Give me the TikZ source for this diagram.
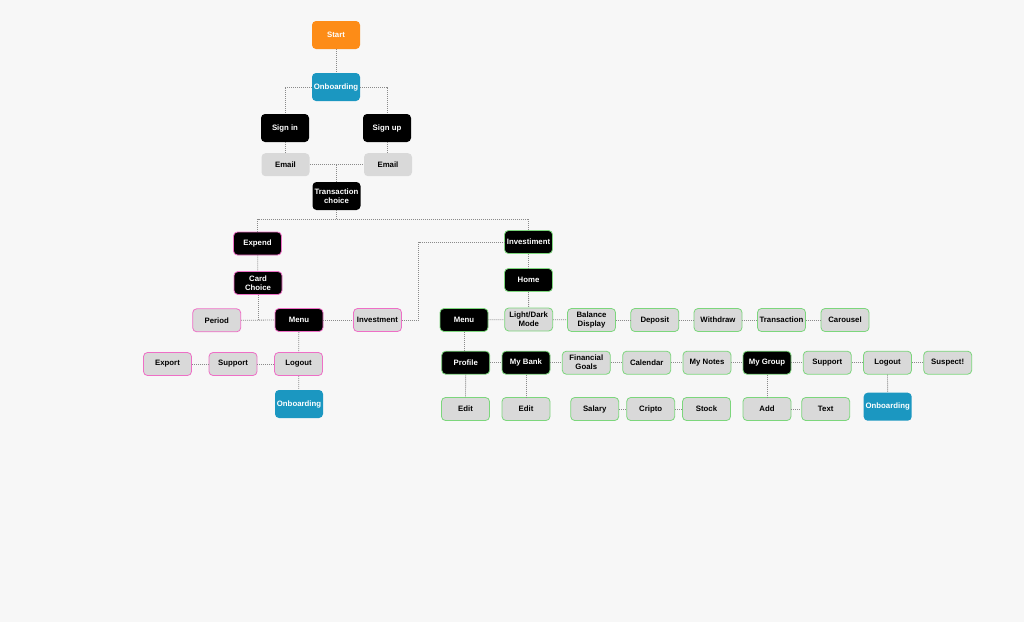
\documentclass[tikz,border=0pt]{standalone}
\usepackage{fontspec}
\setmainfont{Liberation Sans}
\begin{document}
\begin{tikzpicture}[x=1pt,y=-1pt,
  box/.style={rounded corners=4pt, minimum width=48pt, minimum height=23pt, inner sep=0pt, align=center,
    font=\fontsize{7.8}{9}\selectfont\bfseries, line width=0.8pt},
  tall/.style={minimum height=28pt},
  orangebox/.style={box, tall, fill=startorange, text=white},
  bluebox/.style={box, tall, fill=obblue, text=white},
  blackbox/.style={box, tall, fill=black, text=white},
  emailbox/.style={box, fill=greyfill, text=black},
  blkpink/.style={box, fill=black, draw=pinkb, text=white},
  grypink/.style={box, fill=greyfill, draw=pinkb, text=black},
  blkgreen/.style={box, fill=black, draw=greenb, text=white},
  grygreen/.style={box, fill=greyfill, draw=greenb, text=black},
  link/.style={draw=linegrey, line width=0.8pt, dash pattern=on 1pt off 1pt}
]
\definecolor{bg}{HTML}{F7F7F7}
\definecolor{startorange}{HTML}{FD8C17}
\definecolor{obblue}{HTML}{1B97C1}
\definecolor{greyfill}{HTML}{D9D9D9}
\definecolor{pinkb}{HTML}{EE6FC6}
\definecolor{greenb}{HTML}{7CD67C}
\definecolor{linegrey}{HTML}{8A8A8A}
\fill[bg] (0,0) rectangle (1024,622);
\useasboundingbox (0,0) rectangle (1024,622);

% top
\node[orangebox] (start) at (336,35) {Start};
\node[bluebox] (ob) at (336,87) {Onboarding};
\node[blackbox] (signin) at (285,128) {Sign in};
\node[blackbox] (signup) at (387,128) {Sign up};
\node[emailbox] (email1) at (285.5,164.7) {Email};
\node[emailbox] (email2) at (388,164.7) {Email};
\node[blackbox] (tc) at (336.5,196) {Transaction\\choice};
\coordinate (bus) at (336.5,219);

% left tree
\node[blkpink] (expend) at (257.5,243.5) {Expend};
\node[blkpink] (card) at (258,283) {Card\\Choice};
\node[grypink] (period) at (216.7,320.3) {Period};
\node[blkpink] (menuL) at (299,320) {Menu};
\node[grypink] (invP) at (377.5,320) {Investment};
\node[grypink] (export) at (167.5,364) {Export};
\node[grypink] (supportL) at (233,364) {Support};
\node[grypink] (logoutL) at (298.5,364) {Logout};
\node[bluebox] (obL) at (299,404) {Onboarding};

% right tree
\node[blkgreen] (inv) at (528.5,242) {Investiment};
\node[blkgreen] (home) at (528.5,280) {Home};
\node[grygreen] (ld) at (528.7,319.5) {Light/Dark\\Mode};
\node[blkgreen] (menuR) at (464,320) {Menu};
\node[grygreen] (bal) at (591.5,320) {Balance\\Display};
\node[grygreen] (dep) at (654.8,320) {Deposit};
\node[grygreen] (wd) at (718,320) {Withdraw};
\node[grygreen] (tr) at (781.5,320) {Transaction};
\node[grygreen] (car) at (845,320) {Carousel};

\node[blkgreen] (prof) at (465.7,362.7) {Profile};
\node[blkgreen] (bank) at (526,362.7) {My Bank};
\node[grygreen] (fg) at (586.3,362.7) {Financial\\Goals};
\node[grygreen] (cal) at (646.7,362.7) {Calendar};
\node[grygreen] (notes) at (707,362.7) {My Notes};
\node[blkgreen] (group) at (767,362.7) {My Group};
\node[grygreen] (supportR) at (827.3,362.7) {Support};
\node[grygreen] (logoutR) at (887.5,362.7) {Logout};
\node[grygreen] (susp) at (947.7,362.7) {Suspect!};

\node[grygreen] (edit1) at (465.5,409) {Edit};
\node[grygreen] (edit2) at (526,409) {Edit};
\node[grygreen] (sal) at (594.7,409) {Salary};
\node[grygreen] (cri) at (650.7,409) {Cripto};
\node[grygreen] (stock) at (706.5,409) {Stock};
\node[grygreen] (add) at (767,409) {Add};
\node[grygreen] (text) at (825.7,409) {Text};
\node[bluebox] (obR) at (887.7,406.7) {Onboarding};

% connectors top
\draw[link] (start) -- (ob);
\draw[link] (ob.west) -| (signin.north);
\draw[link] (ob.east) -| (signup.north);
\draw[link] (signin.south) -- (signin.south |- email1.north);
\draw[link] (signup.south) -- (signup.south |- email2.north);
\draw[link] (email1.east) -- (email2.west);
\draw[link] (tc.north) -- (tc.north |- email1.east);
\draw[link] (tc.south) -- (bus);
\draw[link] (expend.north) |- (bus) -| (inv.north);

% left
\draw[link] (expend) -- (card);
\draw[link] (card.south) -- (card.south |- period.east);
\draw[link] (period.east) -- (menuL.west);
\draw[link] (menuL.east) -- (invP.west);
\draw[link] (invP.east) -- ++(16.6,0) |- (inv.west);
\draw[link] (menuL) -- (logoutL);
\draw[link] (export) -- (supportL);
\draw[link] (supportL) -- (logoutL);
\draw[link] (logoutL) -- (obL);

% right
\draw[link] (inv) -- (home);
\draw[link] (home) -- (ld);
\draw[link] (menuR) -- (ld);
\draw[link] (ld) -- (bal);
\draw[link] (bal) -- (dep);
\draw[link] (dep) -- (wd);
\draw[link] (wd) -- (tr);
\draw[link] (tr) -- (car);
\draw[link] (menuR.south) -- (menuR.south |- prof.north);
\draw[link] (prof) -- (bank);
\draw[link] (bank) -- (fg);
\draw[link] (fg) -- (cal);
\draw[link] (cal) -- (notes);
\draw[link] (notes) -- (group);
\draw[link] (group) -- (supportR);
\draw[link] (supportR) -- (logoutR);
\draw[link] (logoutR) -- (susp);
\draw[link] (prof) -- (edit1);
\draw[link] (bank) -- (edit2);
\draw[link] (sal) -- (cri);
\draw[link] (cri) -- (stock);
\draw[link] (group) -- (add);
\draw[link] (add) -- (text);
\draw[link] (logoutR) -- (obR);
\end{tikzpicture}
\end{document}
